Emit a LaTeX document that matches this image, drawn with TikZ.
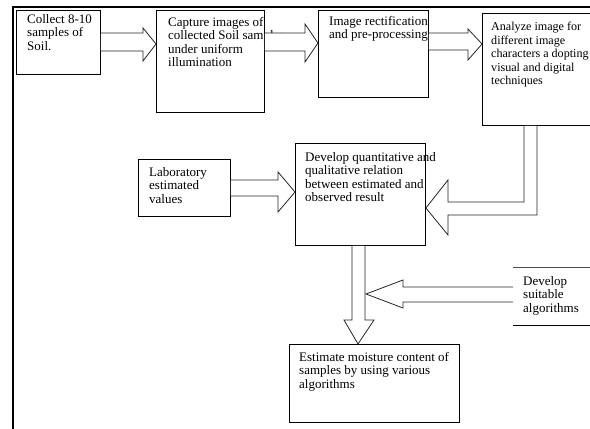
\documentclass[tikz,border=0pt]{standalone}
\usepackage{fontspec}
\setmainfont{Liberation Serif}
\usetikzlibrary{calc}
\tikzset{
  box/.style={draw=black, line width=0.9pt, fill=white, minimum width=#1, inner sep=0, anchor=north west},
  txt/.style={align=left, inner sep=0, anchor=north west, font={\fontsize{13}{13.5}\selectfont}},
  blk/.style={draw=black!85, line width=0.8pt, fill=white, line join=miter},
  frame/.style={line width=2pt, black}
}
\begin{document}
\begin{tikzpicture}[x=1pt,y=-1pt]
\clip (0,0) rectangle (590,429);
\fill[white] (0,0) rectangle (590,429);
% outer frame
\draw[frame] (13,429) -- (13,7) -- (592,7);
% boxes
\node[box=84pt, minimum height=64pt] (b1) at (16,10) {};
\node[box=108pt, minimum height=102pt] (b2) at (156,10) {};
\node[box=110pt, minimum height=87pt] (b3) at (318,10) {};
\node[box=120pt, minimum height=112pt] (b4) at (482,13) {};
\node[box=92pt, minimum height=57pt] (lab) at (138,159) {};
\node[box=130pt, minimum height=102pt] (b5) at (295,143) {};
\node[box=170pt, minimum height=78pt] (est) at (289,344) {};
\node[inner sep=0, minimum width=80pt, minimum height=58pt, anchor=north west] (sa) at (513,267) {};
\draw[black!70, line width=0.9pt] (sa.north west) -- (sa.north east);
\draw[black, line width=1.8pt] (sa.south west) -- (sa.south east);
% texts
\node[txt] (t1) at (27,14) {Collect 8-10\\samples of\\Soil.};
\node[txt] (t2) at (168,17) {Capture images of\\collected Soil samples\\under uniform\\illumination};
\node[txt] (t3) at (329,16) {Image rectification\\and pre-processing};
\node[txt, font={\fontsize{12.1}{13.5}\selectfont}] (t4) at (491,22) {Analyze image for\\different image\\characters a dopting\\visual and digital\\techniques};
\node[txt] (tl) at (149,167) {Laboratory\\estimated\\values};
\node[txt] (t5) at (305,152) {Develop quantitative and\\qualitative relation\\between estimated and\\observed result};
\node[txt] (te) at (299,352) {Estimate moisture content of\\samples by using various\\algorithms};
\node[txt] (ts) at (523,276) {Develop\\suitable\\algorithms};
% block arrows
\draw[blk] (b1.east|-0,33) -- (143,33) -- (143,28) -- (b2.west|-0,44) -- (143,61) -- (143,51) -- (b1.east|-0,51);
\draw[blk] (b2.east|-0,33) -- (305,33) -- (305,24) -- (b3.west|-0,43) -- (305,62) -- (305,51) -- (b2.east|-0,51);
\draw[blk] (b3.east|-0,33) -- (468,33) -- (468,29) -- (b4.west|-0,44) -- (468,60) -- (468,50) -- (b3.east|-0,50);
\draw[blk] (b4.south -| 524,0) -- (524,202) -- (448,202) -- (448,180) -- (b5.east|-0,208) -- (448,235) -- (448,215) -- (537,215) -- (b4.south -| 537,0);
\draw[blk] (lab.east|-0,180) -- (278,180) -- (278,172) -- (b5.west|-0,192) -- (278,212) -- (278,196) -- (lab.east|-0,196);
\draw[blk] (b5.south -| 352,0) -- (352,320) -- (344,320) -- (est.north -| 358,0) -- (374,320) -- (365,320) -- (b5.south -| 365,0);
\coordinate (dtip) at (366,294);
\draw[blk] (sa.west|-0,287) -- (403,287) -- (403,280) -- (dtip) -- (403,308) -- (403,302) -- (sa.west|-0,302);
\end{tikzpicture}
\end{document}
